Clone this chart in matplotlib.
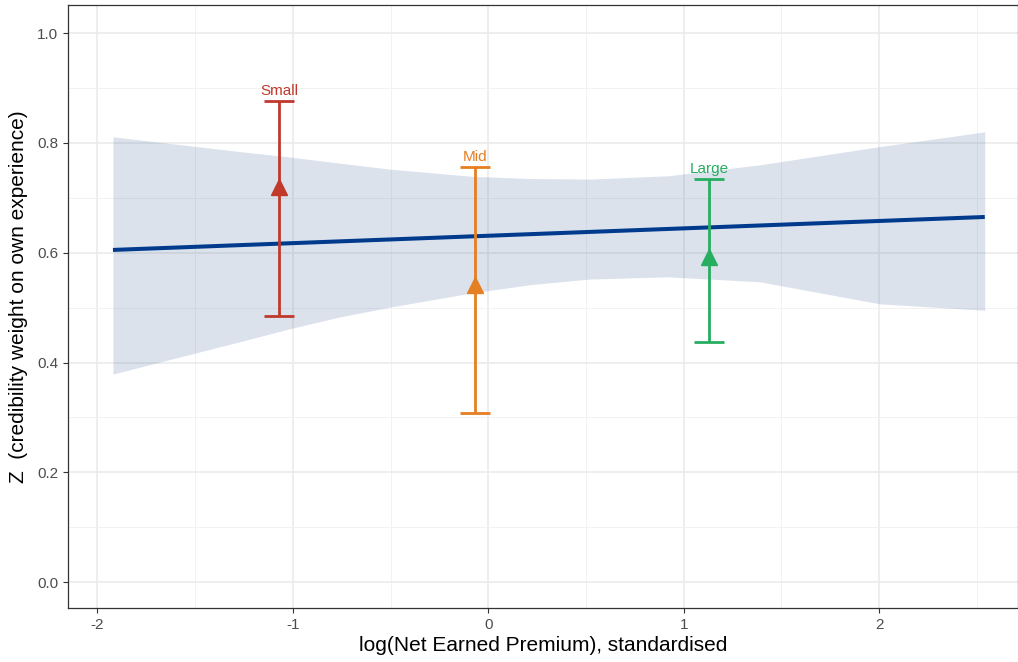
import matplotlib

matplotlib.use("Agg")
import matplotlib.pyplot as plt
from matplotlib.ticker import MultipleLocator

# fitted line and confidence ribbon
line_x = [-1.92, 2.54]
line_y = [0.605, 0.665]
band_x = [-1.92, -1.27, -1.01, -0.76, -0.50, -0.08, 0.22, 0.52, 0.92, 1.39, 2.00, 2.54]
band_hi = [0.811, 0.784, 0.774, 0.763, 0.752, 0.739, 0.735, 0.734, 0.740, 0.760, 0.793, 0.820]
band_lo = [0.379, 0.438, 0.462, 0.483, 0.501, 0.527, 0.542, 0.552, 0.556, 0.547, 0.507, 0.495]

# group estimates
groups = ["Small", "Mid", "Large"]
group_x = [-1.07, -0.07, 1.13]
group_z = [0.720, 0.541, 0.592]
group_lo = [0.485, 0.308, 0.437]
group_hi = [0.876, 0.756, 0.734]
group_colors = ["#C0392B", "#E67E22", "#27AE60"]

plt.rcParams["font.family"] = ["Liberation Sans", "DejaVu Sans"]

fig = plt.figure(figsize=(10.18, 6.62), dpi=100)
ax = fig.add_axes([68 / 1018, 1 - 608 / 662, (1018 - 68) / 1018, (608 - 5) / 662])

ax.fill_between(band_x, band_lo, band_hi, color="#1F4E8C", alpha=0.16,
                linewidth=0, zorder=2)
ax.plot(line_x, line_y, color="#003A8C", linewidth=2.9, zorder=3,
        solid_capstyle="butt")

for name, x, z, lo, hi, col in zip(groups, group_x, group_z, group_lo,
                                   group_hi, group_colors):
    ax.errorbar([x], [z], yerr=[[z - lo], [hi - z]], fmt="none", ecolor=col,
                elinewidth=2.0, capsize=10.5, capthick=2.0, zorder=4)
    ax.plot([x], [z], marker="^", markersize=11, color=col, zorder=5,
            linestyle="none")
    ax.annotate(name, (x, hi), xytext=(0, 2.5), textcoords="offset points",
                ha="center", va="bottom", color=col, fontsize=11)

ax.set_xlim(-2.15, 2.71)
ax.set_ylim(-0.047, 1.051)
ax.xaxis.set_minor_locator(MultipleLocator(0.5))
ax.yaxis.set_minor_locator(MultipleLocator(0.1))
ax.set_xticks([-2, -1, 0, 1, 2])
ax.set_xticklabels(["-2", "-1", "0", "1", "2"])
ax.set_yticks([0, 0.2, 0.4, 0.6, 0.8, 1.0])
ax.set_yticklabels(["0.0", "0.2", "0.4", "0.6", "0.8", "1.0"])

ax.grid(which="major", color="#EBEBEB", linewidth=1.2, zorder=0)
ax.grid(which="minor", color="#F2F2F2", linewidth=0.7, zorder=0)
ax.set_axisbelow(True)

for spine in ax.spines.values():
    spine.set_color("#333333")
    spine.set_linewidth(0.9)

ax.tick_params(which="major", length=3.5, width=0.8, color="#333333",
               labelcolor="#4D4D4D", labelsize=11)
ax.tick_params(which="minor", length=0)

ax.set_xlabel("log(Net Earned Premium), standardised", fontsize=15,
              color="black", labelpad=3)
ax.set_ylabel("Z  (credibility weight on own experience)", fontsize=15,
              color="black")
ax.yaxis.set_label_coords(-0.042, 0.516)

fig.savefig("out.png", dpi=100, facecolor="white")
plt.close(fig)
